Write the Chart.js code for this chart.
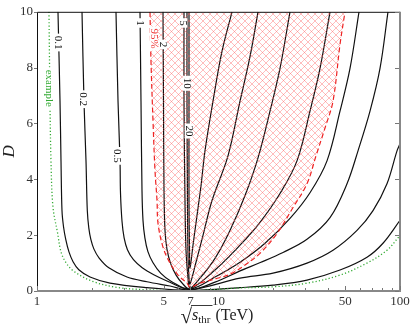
<!DOCTYPE html>
<html>
<head>
<meta charset="utf-8">
<script src="https://cdn.jsdelivr.net/npm/chart.js@4.4.0/dist/chart.umd.min.js"></script>
<style>
  html, body { margin: 0; padding: 0; background: #fff; }
  #wrap { width: 416px; height: 331px; }
</style>
</head>
<body>
<div id="wrap"><canvas id="chart"></canvas></div>
<script>
// tick labels
var xTickLabels = [1, 5, 7, 10, 50, 100];
var xMinorTicks = [2, 3, 4, 6, 8, 9, 20, 30, 40, 60, 70, 80, 90];
var yTickLabels = [0, 2, 4, 6, 8, 10];

// contour levels, each read as [sqrt(s_thr) TeV, D] along the line
var levels = ['0.1', '0.2', '0.5', '1', '2', '5', '10', '20'];

var c01 = [[1.305,10],[1.339,6.8],[1.356,4.66],[1.373,2.88],[1.40,2.3],[1.44,1.85],[1.50,1.40],[1.58,1.05],[1.70,0.76],[1.96,0.50],[2.525,0.28],[4.037,0.12],[6.966,0.02],
           [13.14,0.12],[19.97,0.21],[30.73,0.39],[46.71,0.75],[65.80,1.21],[80.59,1.71],[100,2.53]];
var c02 = [[1.770,10],[1.815,6.8],[1.862,4.66],[1.893,2.88],[1.93,2.25],[1.98,1.85],[2.06,1.50],[2.20,1.18],[2.50,0.82],[3.132,0.50],[4.037,0.33],[5.406,0.18],[6.966,0.04],
           [13.14,0.46],[19.97,0.64],[30.73,1.00],[42.75,1.46],[57.97,2.17],[71.01,2.88],[84.78,3.84],[96.27,5.02],[100,5.27]];
var c05 = [[2.724,10],[2.795,6.8],[2.867,4.66],[2.885,3.49],[2.94,2.50],[3.02,1.90],[3.15,1.48],[3.40,1.12],[3.80,0.83],[4.40,0.58],[5.20,0.36],[6.966,0.05],
           [9.566,0.32],[13.14,0.72],[17.0,1.02],[22.67,1.38],[30.73,1.85],[41.15,2.63],[51.05,3.84],[58.70,5.02],[68.35,6.44],[77.59,7.97],[85.86,10]];
var c1 = [[3.694,10],[3.741,6.8],[3.789,3.59],[3.837,2.53],[3.93,1.90],[4.08,1.42],[4.35,1.02],[4.80,0.64],[5.50,0.34],[6.966,0.07],
          [9.566,0.50],[13.14,1.03],[18.04,1.71],[24.77,2.60],[31.92,3.52],[39.61,4.66],[46.71,6.44],[53.03,7.97],[59.45,10]];
var c2 = [[4.946,10],[4.977,6.8],[5.009,3.59],[5.073,2.17],[5.20,1.50],[5.45,0.98],[5.85,0.56],[6.35,0.26],[6.966,0.07],
          [9.566,0.75],[13.14,1.64],[16.93,2.46],[21.82,3.49],[27.07,4.66],[31.92,6.44],[36.25,7.97],[41.15,10]];
var c5 = [[6.455,10],[6.455,6.8],[6.537,3.24],[6.621,1.46],[6.792,0.46],[6.966,0.11],
          [7.908,0.46],[9.566,1.17],[11.57,2.17],[14.00,3.42],[16.51,4.77],[19.22,6.44],[21.82,7.97],[24.77,10]];
var c10 = [[6.705,10],[6.705,6.8],[6.748,3.24],[6.792,1.28],[6.878,0.46],[6.966,0.25],
           [7.516,1.03],[8.215,1.99],[9.21,3.24],[11.28,4.84],[13.14,6.80],[14.92,8.40],[16.51,10]];
var c20 = [[6.878,10],[6.878,6.8],[6.878,3.24],[6.922,1.46],[6.966,0.82],
           [7.236,1.64],[7.612,2.70],[8.01,3.77],[8.426,5.02],[9.326,6.80],[10.45,8.58],[11.87,10]];
var contours = [c01, c02, c05, c1, c2, c5, c10, c20];

// 95% region boundary
var cl95 = [[4.194,10],[4.247,8.22],[4.356,6.09],[4.468,4.31],[4.584,3.24],[4.642,2.42],[4.946,1.57],[5.406,1.00],[5.983,0.57],[6.705,0.28],[6.966,0.14],
            [7.908,0.28],[9.566,0.43],[11.57,0.60],[14.00,0.93],[16.93,1.35],[21.01,2.06],[25.73,2.99],[30.73,3.84],[34.45,4.84],[38.62,5.84],[42.75,6.80],[46.71,8.83],[49.77,10]];

// example curve
var example = [[1.164,10],[1.179,6.8],[1.194,4.66],[1.225,3.0],[1.30,2.06],[1.356,1.40],[1.45,1.0],[1.60,0.70],[2.053,0.33],[2.759,0.13],[3.872,0.05],[6.966,0.01],
               [13.14,0.11],[19.97,0.15],[30.73,0.28],[46.71,0.57],[65.80,1.00],[84.78,1.46],[100,1.99]];

// label spots on the lines
var labelSpots = [
  { text: '0.1', x: 1.305, y: 8.9, color: '#111' },
  { text: '0.2', x: 1.79, y: 6.87, color: '#111' },
  { text: '0.5', x: 2.76, y: 4.84, color: '#111' },
  { text: '1', x: 3.69, y: 9.6, color: '#111' },
  { text: '2', x: 4.95, y: 8.83, color: '#111' },
  { text: '5', x: 6.4, y: 9.6, color: '#111' },
  { text: '10', x: 6.68, y: 7.44, color: '#111' },
  { text: '20', x: 6.85, y: 5.73, color: '#111' },
  { text: '95%', x: 4.41, y: 9.04, color: '#e33' },
  { text: 'example', x: 1.164, y: 7.26, color: '#3a3' }
];

function toPts(arr) {
  return arr.map(function (p) { return { x: p[0], y: p[1] }; });
}

function makeHatch() {
  var s = 7;
  var c = document.createElement('canvas');
  c.width = s; c.height = s;
  var g = c.getContext('2d');
  g.strokeStyle = 'rgba(255,90,90,0.5)';
  g.lineWidth = 0.8;
  g.beginPath();
  g.moveTo(-1, -1); g.lineTo(s + 1, s + 1);
  g.moveTo(s + 1, -1); g.lineTo(-1, s + 1);
  g.stroke();
  return g.createPattern(c, 'repeat');
}

var datasets = [];
datasets.push({
  data: toPts(cl95),
  borderColor: '#e22',
  borderWidth: 1.2,
  borderDash: [5, 3],
  backgroundColor: makeHatch(),
  fill: 'shape',
  tension: 0.35
});
datasets.push({
  data: toPts(example),
  borderColor: '#3a3',
  borderWidth: 1.3,
  borderDash: [1.2, 2.2],
  fill: false,
  tension: 0.35
});
contours.forEach(function (c) {
  datasets.push({
    data: toPts(c),
    borderColor: '#111',
    borderWidth: 1.2,
    fill: false,
    tension: 0.35
  });
});

var serif = "'Liberation Serif', 'DejaVu Serif', serif";

var extras = {
  id: 'extras',
  afterDatasetsDraw: function (chart) {
    var ctx = chart.ctx, xs = chart.scales.x, ys = chart.scales.y;
    ctx.save();
    ctx.font = '11px ' + serif;
    labelSpots.forEach(function (l) {
      var px = xs.getPixelForValue(l.x), py = ys.getPixelForValue(l.y);
      var w = ctx.measureText(l.text).width;
      ctx.save();
      ctx.translate(px, py);
      ctx.rotate(Math.PI / 2);
      ctx.fillStyle = '#fff';
      ctx.fillRect(-w / 2 - 2, -4, w + 4, 8);
      ctx.fillStyle = l.color;
      ctx.textAlign = 'center';
      ctx.textBaseline = 'middle';
      ctx.fillText(l.text, 0, 0);
      ctx.restore();
    });
    ctx.restore();
  },
  afterDraw: function (chart) {
    var ctx = chart.ctx, a = chart.chartArea, xs = chart.scales.x, ys = chart.scales.y;
    ctx.save();
    // frame
    ctx.strokeStyle = '#111';
    ctx.lineWidth = 1;
    ctx.beginPath();
    ctx.moveTo(a.left + 0.5, a.bottom); ctx.lineTo(a.left + 0.5, a.top + 0.5); ctx.lineTo(a.right, a.top + 0.5);
    ctx.stroke();
    ctx.strokeStyle = '#888';
    ctx.lineWidth = 2;
    ctx.beginPath();
    ctx.moveTo(a.left, a.bottom); ctx.lineTo(a.right, a.bottom); ctx.lineTo(a.right, a.top);
    ctx.stroke();
    // ticks
    ctx.lineWidth = 1;
    ctx.strokeStyle = '#777';
    ctx.beginPath();
    xMinorTicks.forEach(function (v) {
      var px = Math.round(xs.getPixelForValue(v)) + 0.5;
      ctx.moveTo(px, a.bottom - 1); ctx.lineTo(px, a.bottom - 3);
    });
    xTickLabels.forEach(function (v) {
      var px = Math.round(xs.getPixelForValue(v)) + 0.5;
      ctx.moveTo(px, a.bottom - 1); ctx.lineTo(px, a.bottom - 5);
    });
    yTickLabels.forEach(function (v) {
      var py = Math.round(ys.getPixelForValue(v)) + 0.5;
      ctx.moveTo(a.left - 3, py); ctx.lineTo(a.left, py);
      ctx.moveTo(a.right - 1, py); ctx.lineTo(a.right - 5, py);
    });
    ctx.stroke();
    // axis titles
    ctx.fillStyle = '#222';
    ctx.textBaseline = 'alphabetic';
    var cx = (a.left + a.right) / 2;
    var base = a.bottom + 29;
    var x0 = cx - 38;
    ctx.font = '21px ' + serif;
    ctx.fillText('\u221A', x0, base + 3);
    var sw = ctx.measureText('\u221A').width;
    ctx.font = 'italic 16px ' + serif;
    ctx.fillText('s', x0 + sw, base);
    var s1 = ctx.measureText('s').width;
    ctx.font = '11px ' + serif;
    ctx.fillText('thr', x0 + sw + s1, base + 3);
    var s2 = ctx.measureText('thr').width;
    ctx.strokeStyle = '#222';
    ctx.lineWidth = 0.9;
    ctx.beginPath();
    ctx.moveTo(x0 + sw - 1, base - 14.5);
    ctx.lineTo(x0 + sw + 2 + s1 + s2, base - 14.5);
    ctx.stroke();
    ctx.font = '16px ' + serif;
    ctx.fillText('(TeV)', x0 + sw + 5 + s1 + s2, base);
    ctx.save();
    ctx.translate(a.left - 23, (a.top + a.bottom) / 2);
    ctx.rotate(-Math.PI / 2);
    ctx.font = 'italic 17px ' + serif;
    ctx.textAlign = 'center';
    ctx.fillText('D', 0, 0);
    ctx.restore();
    ctx.restore();
  }
};

new Chart(document.getElementById('chart').getContext('2d'), {
  type: 'line',
  data: { datasets: datasets },
  options: {
    responsive: true,
    maintainAspectRatio: false,
    animation: false,
    devicePixelRatio: 1,
    layout: { padding: { top: 10, right: 16, left: 0, bottom: 0 } },
    elements: { point: { radius: 0 } },
    plugins: { legend: { display: false }, tooltip: { enabled: false } },
    scales: {
      x: {
        type: 'logarithmic',
        min: 1,
        max: 100,
        afterBuildTicks: function (s) { s.ticks = xTickLabels.map(function (v) { return { value: v }; }); },
        afterFit: function (s) { s.height = 40; },
        grid: { display: false, drawTicks: false },
        border: { display: false },
        ticks: {
          autoSkip: false, maxRotation: 0, padding: 3, color: '#333',
          font: { family: serif, size: 13 },
          callback: function (v) { return String(v); }
        }
      },
      y: {
        type: 'linear',
        min: 0,
        max: 10,
        afterBuildTicks: function (s) { s.ticks = yTickLabels.map(function (v) { return { value: v }; }); },
        afterFit: function (s) { s.width = 37; },
        grid: { display: false, drawTicks: false },
        border: { display: false },
        ticks: {
          padding: 4, color: '#333',
          font: { family: serif, size: 13 }
        }
      }
    }
  },
  plugins: [extras]
});
</script>
</body>
</html>
